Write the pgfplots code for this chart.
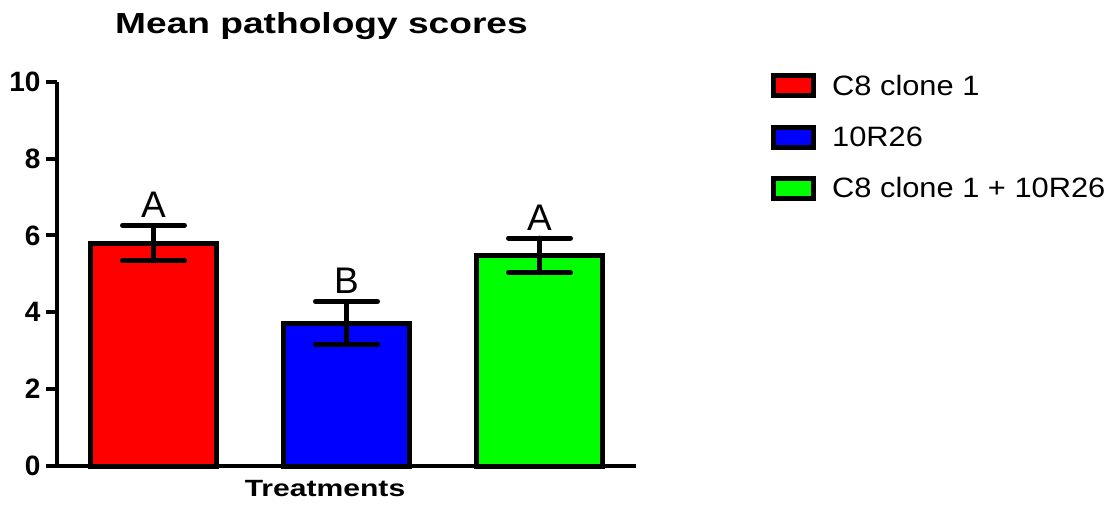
\documentclass[border=0pt]{standalone}
\usepackage{fontspec}
\setmainfont{Liberation Sans}
\newfontfamily\widefont[FakeStretch=1.28]{Liberation Sans}
\newfontfamily\legfont[FakeStretch=1.1]{Liberation Sans}
\usepackage{pgfplots}
\pgfplotsset{compat=1.18}
\definecolor{barred}{RGB}{255,0,0}
\definecolor{barblue}{RGB}{0,0,255}
\definecolor{bargreen}{RGB}{0,255,0}

\pgfplotsset{
  swatch/.style={legend image code/.code={%
      \draw[black, fill=#1, line width=5pt] (0pt,-10pt) rectangle (40pt,10pt);}},
  errstyle/.style={
    error bars/.cd,
      y dir=both, y explicit,
      error mark=|,
      error bar style={line width=5pt, black, line cap=round},
      error mark options={line width=5pt, mark size=31pt, black, line cap=round}},
}

\begin{document}
\begin{tikzpicture}[x=1pt,y=1pt]
\path[use as bounding box] (0,0) rectangle (1118,504);
\begin{axis}[
  at={(57pt,38pt)}, anchor=south west,
  scale only axis, width=579pt, height=384.3pt,
  xmin=-0.5, xmax=2.5, ymin=0, ymax=10,
  axis lines=left,
  axis line style={-, line width=4pt, black},
  xtick=\empty,
  ytick={0,2,4,6,8,10},
  tick align=outside,
  major tick length=11pt,
  tick style={line width=4pt, black},
  yticklabel style={font=\bfseries\fontsize{28}{28}\selectfont, xshift=-2pt},
  /pgf/number format/assume math mode=true,
  ybar, bar width=126pt, bar shift=0pt,
  legend style={at={(1.228,1.029)}, anchor=north west, draw=none, fill=none,
    font=\legfont\fontsize{28}{28}\selectfont, row sep=26pt,
    nodes={inner xsep=0pt}, column sep=16pt},
  legend cell align=left,
  clip=false,
]
\addplot[draw=black, line width=5pt, fill=barred, swatch=barred, errstyle]
  coordinates {(0,5.80) +- (0,0.46)};
\addplot[draw=black, line width=5pt, fill=barblue, swatch=barblue, errstyle]
  coordinates {(1,3.72) +- (0,0.56)};
\addplot[draw=black, line width=5pt, fill=bargreen, swatch=bargreen, errstyle]
  coordinates {(2,5.48) +- (0,0.45)};
\legend{C8 clone 1, 10R26, C8 clone 1 + 10R26}
% significance letters above the error bars
\node[font=\fontsize{37}{37}\selectfont, anchor=base, yshift=8pt] at (axis cs:0,6.26) {A};
\node[font=\fontsize{37}{37}\selectfont, anchor=base, yshift=8pt] at (axis cs:1,4.28) {B};
\node[font=\fontsize{37}{37}\selectfont, anchor=base, yshift=8pt] at (axis cs:2,5.93) {A};
\end{axis}
\node[anchor=base, font=\widefont\bfseries\fontsize{29}{34}\selectfont] at (321.5,470) {Mean pathology scores};
\node[anchor=base, font=\widefont\bfseries\fontsize{23.5}{28}\selectfont] at (325,7.3) {Treatments};
\end{tikzpicture}
\end{document}
